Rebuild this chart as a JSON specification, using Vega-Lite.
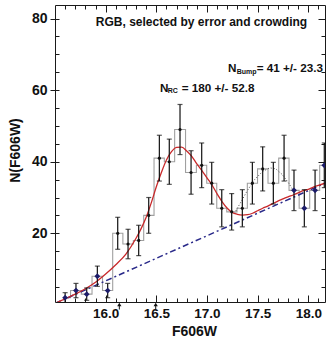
{
  "$schema": "https://vega.github.io/schema/vega-lite/v6.json",
  "width": 270,
  "height": 297,
  "autosize": "none",
  "padding": {"left": 55, "top": 5, "right": 8, "bottom": 37},
  "background": "white",
  "config": {
    "view": {"stroke": "#1a1a1a", "strokeWidth": 1},
    "font": "Liberation Sans",
    "axis": {
      "domain": false, "grid": false, "tickColor": "#1a1a1a", "tickWidth": 1,
      "labelFont": "Liberation Sans", "labelFontSize": 14, "labelFontWeight": "bold", "labelColor": "#111",
      "titleFont": "Liberation Sans", "titleFontSize": 14, "titleFontWeight": "bold", "titleColor": "#111"
    }
  },
  "datasets": {
    "hist": [
      {"m": 15.600, "n": 2, "lo": 0.59, "hi": 3.41, "g": "b"},
      {"m": 15.707, "n": 4, "lo": 2.0, "hi": 6.0, "g": "b"},
      {"m": 15.813, "n": 3, "lo": 1.27, "hi": 4.73, "g": "b"},
      {"m": 15.918, "n": 8, "lo": 5.17, "hi": 10.83, "g": "b"},
      {"m": 16.020, "n": 4, "lo": 2.0, "hi": 6.0, "g": "b"},
      {"m": 16.119, "n": 20, "lo": 15.53, "hi": 24.47, "g": "r"},
      {"m": 16.221, "n": 17, "lo": 12.88, "hi": 21.12, "g": "r"},
      {"m": 16.326, "n": 18, "lo": 13.76, "hi": 22.24, "g": "r"},
      {"m": 16.425, "n": 25, "lo": 20.0, "hi": 30.0, "g": "r"},
      {"m": 16.530, "n": 41, "lo": 34.6, "hi": 47.4, "g": "r"},
      {"m": 16.628, "n": 40, "lo": 33.68, "hi": 46.32, "g": "r"},
      {"m": 16.734, "n": 49, "lo": 42.0, "hi": 56.0, "g": "r"},
      {"m": 16.843, "n": 37, "lo": 30.92, "hi": 43.08, "g": "r"},
      {"m": 16.948, "n": 39, "lo": 32.76, "hi": 45.24, "g": "r"},
      {"m": 17.047, "n": 34, "lo": 28.17, "hi": 39.83, "g": "r"},
      {"m": 17.146, "n": 27, "lo": 21.8, "hi": 32.2, "g": "r"},
      {"m": 17.244, "n": 26, "lo": 20.9, "hi": 31.1, "g": "r"},
      {"m": 17.349, "n": 27, "lo": 21.8, "hi": 32.2, "g": "r"},
      {"m": 17.448, "n": 34, "lo": 28.17, "hi": 39.83, "g": "r"},
      {"m": 17.550, "n": 38, "lo": 31.84, "hi": 44.16, "g": "r"},
      {"m": 17.655, "n": 34, "lo": 28.17, "hi": 39.83, "g": "r"},
      {"m": 17.761, "n": 41, "lo": 34.6, "hi": 47.4, "g": "r"},
      {"m": 17.859, "n": 32, "lo": 26.34, "hi": 37.66, "g": "b"},
      {"m": 17.961, "n": 27, "lo": 21.8, "hi": 32.2, "g": "b"},
      {"m": 18.067, "n": 32, "lo": 26.34, "hi": 37.66, "g": "b"},
      {"m": 18.158, "n": 39, "lo": 32.76, "hi": 45.24, "g": "b"}
    ],
    "fit": [
      {"m": 15.50, "n": 0.4}, {"m": 15.60, "n": 1.7}, {"m": 15.70, "n": 3.0}, {"m": 15.80, "n": 4.5},
      {"m": 15.90, "n": 6.3}, {"m": 16.00, "n": 8.6}, {"m": 16.10, "n": 11.2}, {"m": 16.20, "n": 14.2},
      {"m": 16.30, "n": 18.6}, {"m": 16.35, "n": 21.3}, {"m": 16.40, "n": 24.5}, {"m": 16.45, "n": 28.5},
      {"m": 16.50, "n": 33.0}, {"m": 16.55, "n": 37.0}, {"m": 16.60, "n": 40.5}, {"m": 16.65, "n": 42.8},
      {"m": 16.70, "n": 44.0}, {"m": 16.75, "n": 44.1}, {"m": 16.80, "n": 43.0}, {"m": 16.85, "n": 41.5},
      {"m": 16.90, "n": 39.4}, {"m": 16.95, "n": 37.5}, {"m": 17.00, "n": 35.5}, {"m": 17.05, "n": 33.5},
      {"m": 17.10, "n": 31.0}, {"m": 17.15, "n": 28.8}, {"m": 17.20, "n": 27.0}, {"m": 17.25, "n": 25.8},
      {"m": 17.30, "n": 25.3}, {"m": 17.35, "n": 25.1}, {"m": 17.40, "n": 25.2}, {"m": 17.45, "n": 25.6},
      {"m": 17.50, "n": 26.3}, {"m": 17.55, "n": 27.0}, {"m": 17.60, "n": 27.6}, {"m": 17.65, "n": 28.3},
      {"m": 17.70, "n": 29.0}, {"m": 17.75, "n": 29.6}, {"m": 17.80, "n": 30.2}, {"m": 17.85, "n": 30.7},
      {"m": 17.90, "n": 31.3}, {"m": 17.95, "n": 31.9}, {"m": 18.00, "n": 32.3}, {"m": 18.05, "n": 32.9},
      {"m": 18.10, "n": 33.4}, {"m": 18.165, "n": 34.0}
    ],
    "bg": [
      {"m": 15.50, "n": 0.4},
      {"m": 18.165, "n": 34.0}
    ],
    "bump": [
      {"m": 17.27, "n": 25.5}, {"m": 17.33, "n": 28.5}, {"m": 17.40, "n": 32.0}, {"m": 17.47, "n": 35.0},
      {"m": 17.55, "n": 37.3}, {"m": 17.62, "n": 38.3}, {"m": 17.68, "n": 38.0}, {"m": 17.74, "n": 36.5},
      {"m": 17.80, "n": 34.3}, {"m": 17.87, "n": 31.2}
    ],
    "arrows": [{"m": 16.135}, {"m": 16.494}]
  },
  "resolve": {"axis": {"x": "independent", "y": "independent"}},
  "layer": [
    {
      "data": {"name": "hist"},
      "mark": {"type": "line", "interpolate": "step", "color": "#a0a0a0", "strokeWidth": 1.1, "clip": true},
      "encoding": {
        "x": {"field": "m", "type": "quantitative",
              "scale": {"domain": [15.5, 18.165], "nice": false, "zero": false},
              "axis": {"orient": "bottom", "values": [16, 16.5, 17, 17.5, 18], "format": ".1f", "ticks": false,
                       "labelFontSize": 13.5, "labelPadding": 4, "title": "F606W", "titleX": 139, "titleY": 33, "titleBaseline": "alphabetic"}},
        "y": {"field": "n", "type": "quantitative",
              "scale": {"domain": [0.8, 83.8], "nice": false, "zero": false},
              "axis": {"orient": "left", "values": [20, 40, 60, 80], "tickSize": 5, "labelPadding": 3,
                       "title": "N(F606W)", "titleX": -40, "titleY": 145, "titleBaseline": "middle"}}
      }
    },
    {
      "data": {"name": "bump"},
      "mark": {"type": "line", "color": "#444", "strokeWidth": 1, "strokeDash": [1, 2], "clip": true},
      "encoding": {
        "x": {"field": "m", "type": "quantitative",
              "axis": {"orient": "bottom", "values": [16, 16.5, 17, 17.5, 18], "labels": false, "tickSize": 7, "offset": -7, "title": null}},
        "y": {"field": "n", "type": "quantitative",
              "axis": {"orient": "left", "values": [5, 10, 15, 20, 25, 30, 35, 40, 45, 50, 55, 60, 65, 70, 75, 80], "labels": false, "tickSize": 4, "offset": -4, "title": null}}
      }
    },
    {
      "data": {"name": "bg"},
      "mark": {"type": "line", "color": "#2a2a8a", "strokeWidth": 1.5, "strokeDash": [6, 3, 2, 3], "clip": true},
      "encoding": {
        "x": {"field": "m", "type": "quantitative",
              "axis": {"orient": "bottom", "values": [15.6, 15.7, 15.8, 15.9, 16.1, 16.2, 16.3, 16.4, 16.6, 16.7, 16.8, 16.9, 17.1, 17.2, 17.3, 17.4, 17.6, 17.7, 17.8, 17.9, 18.1], "labels": false, "tickSize": 4, "offset": -4, "title": null}},
        "y": {"field": "n", "type": "quantitative",
              "axis": {"orient": "right", "values": [20, 40, 60, 80], "labels": false, "tickSize": 7, "offset": -7, "title": null}}
      }
    },
    {
      "data": {"name": "fit"},
      "mark": {"type": "line", "color": "#c8282a", "strokeWidth": 1.3, "interpolate": "monotone", "clip": true},
      "encoding": {
        "x": {"field": "m", "type": "quantitative",
              "axis": {"orient": "top", "values": [16, 16.5, 17, 17.5, 18], "labels": false, "tickSize": 7, "offset": -7, "title": null}},
        "y": {"field": "n", "type": "quantitative",
              "axis": {"orient": "right", "values": [5, 10, 15, 25, 30, 35, 45, 50, 55, 65, 70, 75], "labels": false, "tickSize": 4, "offset": -4, "title": null}}
      }
    },
    {
      "data": {"name": "hist"},
      "mark": {"type": "rule", "color": "#111", "strokeWidth": 1.2, "clip": true},
      "encoding": {
        "x": {"field": "m", "type": "quantitative",
              "axis": {"orient": "top", "values": [15.6, 15.7, 15.8, 15.9, 16.1, 16.2, 16.3, 16.4, 16.6, 16.7, 16.8, 16.9, 17.1, 17.2, 17.3, 17.4, 17.6, 17.7, 17.8, 17.9, 18.1], "labels": false, "tickSize": 4, "offset": -4, "title": null}},
        "y": {"field": "lo", "type": "quantitative", "axis": null},
        "y2": {"field": "hi"}
      }
    },
    {
      "data": {"name": "hist"},
      "mark": {"type": "tick", "orient": "horizontal", "color": "#111", "size": 5, "thickness": 1.2, "clip": true},
      "encoding": {
        "x": {"field": "m", "type": "quantitative", "axis": null},
        "y": {"field": "lo", "type": "quantitative", "axis": null}
      }
    },
    {
      "data": {"name": "hist"},
      "mark": {"type": "tick", "orient": "horizontal", "color": "#111", "size": 5, "thickness": 1.2, "clip": true},
      "encoding": {
        "x": {"field": "m", "type": "quantitative", "axis": null},
        "y": {"field": "hi", "type": "quantitative", "axis": null}
      }
    },
    {
      "data": {"name": "hist"},
      "transform": [{"filter": "datum.g == 'r'"}],
      "mark": {"type": "point", "filled": true, "color": "#111", "size": 10, "opacity": 1},
      "encoding": {
        "x": {"field": "m", "type": "quantitative", "axis": null},
        "y": {"field": "n", "type": "quantitative", "axis": null}
      }
    },
    {
      "data": {"name": "hist"},
      "transform": [{"filter": "datum.g == 'b'"}],
      "mark": {"type": "point", "shape": "diamond", "filled": true, "color": "#1c1c6a", "size": 34, "opacity": 1, "clip": true},
      "encoding": {
        "x": {"field": "m", "type": "quantitative", "axis": null},
        "y": {"field": "n", "type": "quantitative", "axis": null}
      }
    },
    {
      "data": {"name": "arrows"},
      "mark": {"type": "point", "shape": "triangle-up", "filled": true, "color": "#111", "size": 18, "opacity": 1},
      "encoding": {
        "x": {"field": "m", "type": "quantitative", "axis": null},
        "y": {"datum": 0.1, "axis": null}
      }
    },
    {
      "data": {"name": "arrows"},
      "mark": {"type": "rule", "color": "#111", "strokeWidth": 1},
      "encoding": {
        "x": {"field": "m", "type": "quantitative", "axis": null},
        "y": {"datum": 0.0, "axis": null},
        "y2": {"datum": -1.3}
      }
    },
    {
      "data": {"values": [{}]},
      "mark": {"type": "text", "text": "RGB, selected by error and crowding", "font": "Liberation Sans", "fontWeight": "bold", "fontSize": 12, "align": "center", "baseline": "alphabetic", "color": "#111"},
      "encoding": {
        "x": {"datum": 16.946, "type": "quantitative", "axis": null},
        "y": {"datum": 77.93, "type": "quantitative", "axis": null}
      }
    },
    {
      "data": {"values": [{}]},
      "mark": {"type": "text", "text": "N", "font": "Liberation Sans", "fontWeight": "bold", "fontSize": 11.7, "align": "left", "baseline": "alphabetic", "color": "#111"},
      "encoding": {
        "x": {"datum": 17.2076, "type": "quantitative", "axis": null},
        "y": {"datum": 64.99, "type": "quantitative", "axis": null}
      }
    },
    {
      "data": {"values": [{}]},
      "mark": {"type": "text", "text": "Bump", "font": "Liberation Sans", "fontWeight": "bold", "fontSize": 7, "align": "left", "baseline": "alphabetic", "color": "#111"},
      "encoding": {
        "x": {"datum": 17.2935, "type": "quantitative", "axis": null},
        "y": {"datum": 64.38, "type": "quantitative", "axis": null}
      }
    },
    {
      "data": {"values": [{}]},
      "mark": {"type": "text", "text": "= 41 +/- 23.3", "font": "Liberation Sans", "fontWeight": "bold", "fontSize": 11.7, "align": "left", "baseline": "alphabetic", "color": "#111"},
      "encoding": {
        "x": {"datum": 17.491, "type": "quantitative", "axis": null},
        "y": {"datum": 64.99, "type": "quantitative", "axis": null}
      }
    },
    {
      "data": {"values": [{}]},
      "mark": {"type": "text", "text": "N", "font": "Liberation Sans", "fontWeight": "bold", "fontSize": 11.7, "align": "left", "baseline": "alphabetic", "color": "#111"},
      "encoding": {
        "x": {"datum": 16.5364, "type": "quantitative", "axis": null},
        "y": {"datum": 59.57, "type": "quantitative", "axis": null}
      }
    },
    {
      "data": {"values": [{}]},
      "mark": {"type": "text", "text": "RC", "font": "Liberation Sans", "fontWeight": "bold", "fontSize": 7, "align": "left", "baseline": "alphabetic", "color": "#111"},
      "encoding": {
        "x": {"datum": 16.6124, "type": "quantitative", "axis": null},
        "y": {"datum": 59.07, "type": "quantitative", "axis": null}
      }
    },
    {
      "data": {"values": [{}]},
      "mark": {"type": "text", "text": "= 180 +/- 52.8", "font": "Liberation Sans", "fontWeight": "bold", "fontSize": 11.7, "align": "left", "baseline": "alphabetic", "color": "#111"},
      "encoding": {
        "x": {"datum": 16.7506, "type": "quantitative", "axis": null},
        "y": {"datum": 59.57, "type": "quantitative", "axis": null}
      }
    }
  ]
}
